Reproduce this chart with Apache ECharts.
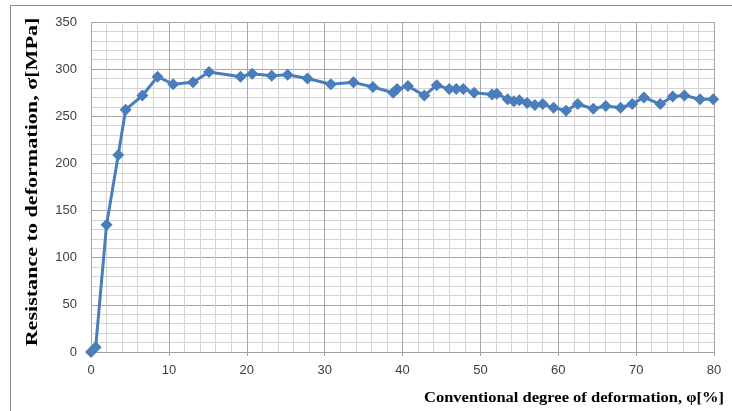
<!DOCTYPE html>
<html><head><meta charset="utf-8">
<script src="https://cdn.jsdelivr.net/npm/echarts@6/dist/echarts.min.js"></script>
<style>html,body{margin:0;padding:0;background:#fff}#c{width:732px;height:411px}</style>
</head><body><div id="c"></div>
<script>
const strain = [0, 0.6, 2.0, 3.5, 4.45, 6.6, 8.55, 10.55, 13.1, 15.15, 19.2, 20.7, 23.2, 25.25, 27.8, 30.8, 33.7, 36.2, 38.8, 39.3, 40.7, 42.8, 44.4, 46.0, 46.9, 47.8, 49.2, 51.5, 52.1, 53.5, 54.3, 55.0, 56.0, 57.0, 58.0, 59.4, 61.0, 62.5, 64.5, 66.1, 68.0, 69.5, 71.0, 73.1, 74.7, 76.2, 78.2, 79.9];
const stress = [0, 5, 135, 209, 257, 272, 292, 284, 286, 297, 292, 295, 293, 294, 290, 284, 286, 281, 275, 279, 282, 272, 283, 279, 279, 279, 275, 273, 274, 268, 266, 267, 264, 262, 263, 259, 256, 263, 258, 261, 259, 263, 270, 263, 271, 272, 268, 268];
const xTitle = 'Conventional degree of deformation, φ[%]';
const yTitle = 'Resistance to deformation, σ[MPa]';

const chart = echarts.init(document.getElementById('c'), null, {renderer: 'canvas'});
const data = strain.map((x, i) => [x, stress[i]]);
const tickFont = {fontFamily: 'Liberation Sans', fontSize: 13, color: '#404040'};
chart.setOption({
  animation: false,
  grid: {left: 91, right: 18, top: 22, bottom: 59},
  xAxis: {
    type: 'value', min: 0, max: 80, interval: 10,
    axisLine: {show: true, lineStyle: {color: '#a0a0a0', width: 1}},
    axisTick: {show: true, length: 4, lineStyle: {color: '#a0a0a0'}},
    axisLabel: Object.assign({margin: 12}, tickFont),
    splitLine: {show: true, lineStyle: {color: '#a6a6a6', width: 1}},
    minorTick: {show: false, splitNumber: 5},
    minorSplitLine: {show: true, lineStyle: {color: '#d4d4d4', width: 1}}
  },
  yAxis: {
    type: 'value', min: 0, max: 350, interval: 50,
    axisLine: {show: false},
    axisTick: {show: false},
    axisLabel: Object.assign({margin: 14}, tickFont),
    splitLine: {show: true, lineStyle: {color: '#a6a6a6', width: 1}},
    minorTick: {show: false, splitNumber: 5},
    minorSplitLine: {show: true, lineStyle: {color: '#d4d4d4', width: 1}}
  },
  series: [{
    type: 'line', data: data,
    symbol: 'diamond', symbolSize: 12,
    lineStyle: {color: '#4a7ebb', width: 3},
    itemStyle: {color: '#4a7ebb'}
  }],
  graphic: [
    {type: 'rect', silent: true, shape: {x: 10.5, y: 5.5, width: 740, height: 420},
     style: {fill: 'none', stroke: '#8c8c8c', lineWidth: 1}},
    {type: 'text', x: 33, y: 182, rotation: Math.PI / 2, scaleX: 1.3, scaleY: 1,
     style: {text: yTitle, fontFamily: 'Liberation Serif', fontWeight: 'bold', fontSize: 17,
             fill: '#000', align: 'center', verticalAlign: 'middle'}},
    {type: 'text', x: 424, y: 398, scaleX: 1.1, scaleY: 1,
     style: {text: xTitle, fontFamily: 'Liberation Serif', fontWeight: 'bold', fontSize: 15,
             fill: '#000', align: 'left', verticalAlign: 'middle'}}
  ]
});
</script></body></html>
